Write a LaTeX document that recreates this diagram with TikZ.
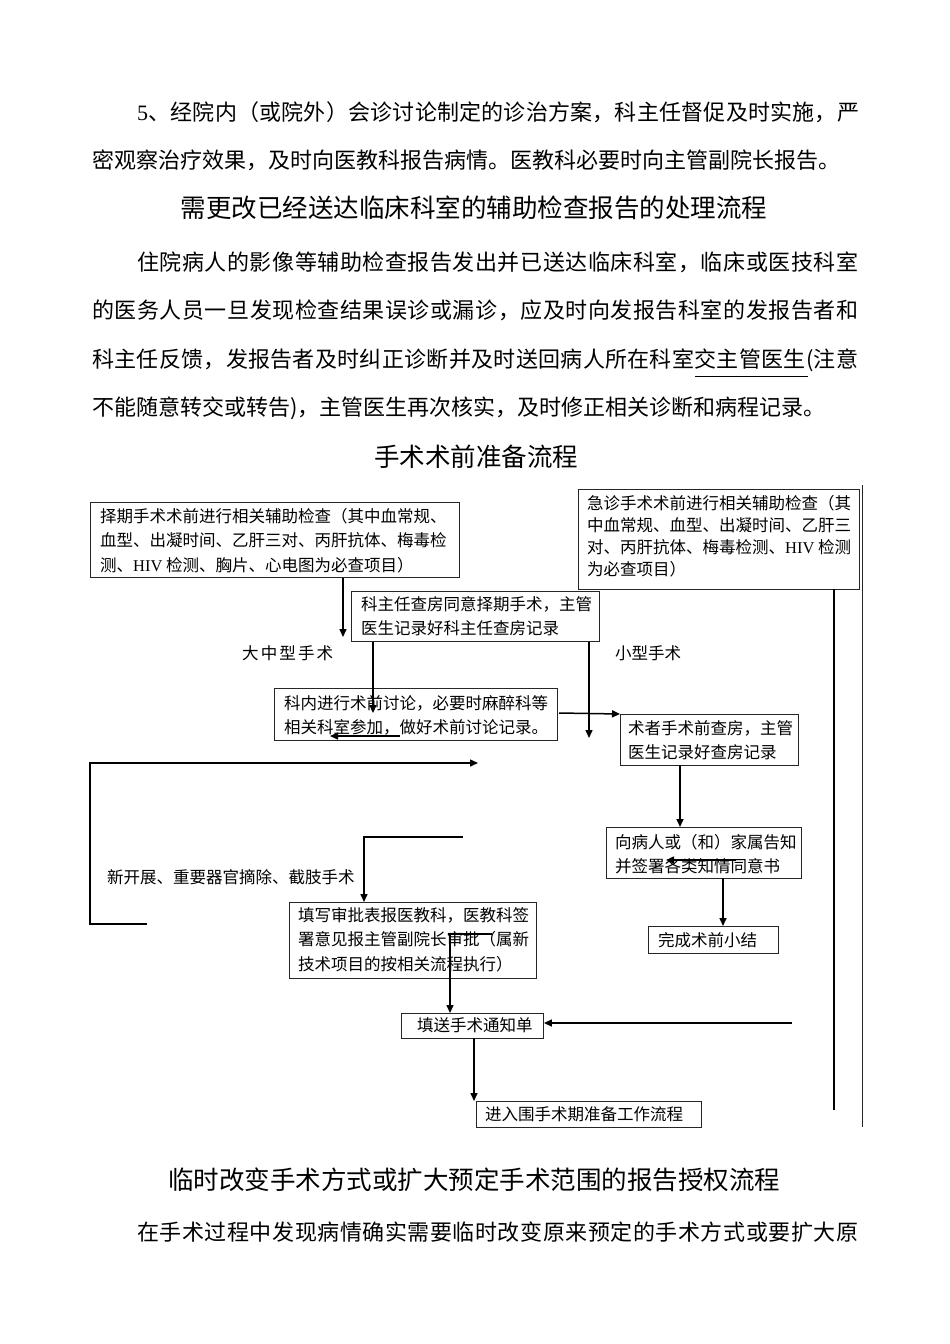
\documentclass[tikz,border=0pt]{standalone}
\usepackage{fontspec}
\setmainfont{Liberation Serif}
\newfontfamily\cjk{Noto Sans CJK SC}
\usetikzlibrary{arrows.meta}
\def\spreadA#1{#1\spreadB}
\def\spreadB#1{\ifx#1\relax\else\hfil#1\expandafter\spreadB\fi}
\newcommand\bodyfont{\cjk\fontsize{22}{26}\selectfont}
\newcommand\titlefont{\cjk\fontsize{25.5}{30}\selectfont}
\newcommand\boxfont{\cjk\fontsize{16.5}{24.5}\selectfont}
\newcommand\boxfontB{\cjk\fontsize{16.5}{22}\selectfont}
\begin{document}
\begin{tikzpicture}[x=1pt,y=-1pt,
  body/.style={anchor=west,inner sep=0pt,font=\bodyfont},
  ttl/.style={inner sep=0pt,font=\titlefont},
  fbox/.style={draw=black!85,line width=0.9pt,inner sep=0pt,anchor=north west},
  btxt/.style={anchor=north west,inner sep=0pt,align=left,font=\boxfont},
  lbl/.style={anchor=west,inner sep=0pt,font=\boxfont},
  arr/.style={line width=1.5pt,-{Triangle[length=8pt,width=7pt]}},
  ln/.style={line width=1.5pt}]
\useasboundingbox (0,0) rectangle (950,1344);
\fill[white] (0,0) rectangle (950,1344);

% ---------- body text ----------
\node[body] (p1) at (137,112) {\makebox[722pt][s]{{\rmfamily 5}\spreadB 、经院内（或院外）会诊讨论制定的诊治方案，科主任督促及时实施，严\relax}};
\node[body] (p2) at (92,160) {密观察治疗效果，及时向医教科报告病情。医教科必要时向主管副院长报告。};
\node[ttl] (t1) at (474,208) {需更改已经送达临床科室的辅助检查报告的处理流程};
\node[body] (p3) at (137,262) {\makebox[721pt][s]{\spreadA 住院病人的影像等辅助检查报告发出并已送达临床科室，临床或医技科室\relax}};
\node[body] (p4) at (92,310) {\makebox[766pt][s]{\spreadA 的医务人员一旦发现检查结果误诊或漏诊，应及时向发报告科室的发报告者和\relax}};
\node[body] (p5) at (92,360) {\makebox[766pt][s]{\spreadA 科主任反馈，发报告者及时纠正诊断并及时送回病人所在科室交主管医生(注意\relax}};
\coordinate (u1) at (695,376);
\coordinate (u2) at (808,376);
\draw[line width=0.8pt] (u1) -- (u2);
\node[body] (p6) at (92,408) {不能随意转交或转告)，主管医生再次核实，及时修正相关诊断和病程记录。};
\node[ttl] (t2) at (476,457) {手术术前准备流程};

% ---------- boxes ----------
\node[fbox,minimum width=369pt,minimum height=75pt] (A) at (90,502) {};
\node[btxt] (Atx) at (100,508) {择期手术术前进行相关辅助检查（其中血常规、\\血型、出凝时间、乙肝三对、丙肝抗体、梅毒检\\测、{\rmfamily HIV} 检测、胸片、心电图为必查项目）};

\node[fbox,minimum width=281pt,minimum height=100pt] (B) at (578,489) {};
\node[btxt,font=\boxfontB] (Btx) at (587,495) {急诊手术术前进行相关辅助检查（其\\中血常规、血型、出凝时间、乙肝三\\对、丙肝抗体、梅毒检测、{\rmfamily HIV} 检测\\为必查项目）};

\node[fbox,minimum width=248pt,minimum height=50pt] (C) at (351,591) {};
\node[btxt] (Ctx) at (361,596) {科主任查房同意择期手术，主管\\医生记录好科主任查房记录};

\node[fbox,minimum width=283pt,minimum height=52pt] (D) at (274,688) {};
\node[btxt] (Dtx) at (284,695) {科内进行术前讨论，必要时麻醉科等\\相关科室参加，做好术前讨论记录。};

\node[fbox,minimum width=178pt,minimum height=51pt] (E) at (620,714) {};
\node[btxt] (Etx) at (628,720) {术者手术前查房，主管\\医生记录好查房记录};

\node[fbox,minimum width=195pt,minimum height=51pt] (I) at (606,827) {};
\node[btxt] (Itx) at (615,834) {向病人或（和）家属告知\\并签署各类知情同意书};

\node[fbox,minimum width=130pt,minimum height=27pt] (J) at (648,926) {};
\node[lbl] (Jtx) at (658,940) {完成术前小结};

\node[fbox,minimum width=247pt,minimum height=76pt] (F) at (289,902) {};
\node[btxt] (Ftx) at (298,907) {填写审批表报医教科，医教科签\\署意见报主管副院长审批（属新\\技术项目的按相关流程执行）};

\node[fbox,minimum width=142pt,minimum height=25pt] (G) at (401,1013) {};
\node[lbl] (Gtx) at (417,1025) {填送手术通知单};

\node[fbox,minimum width=225pt,minimum height=26pt] (H) at (476,1101) {};
\node[lbl] (Htx) at (485,1114) {进入围手术期准备工作流程};

% ---------- labels ----------
\node[lbl] (L1) at (242,653) {\makebox[91pt][s]{\spreadA 大中型手术\relax}};
\node[lbl] (L2) at (615,653) {小型手术};
\node[lbl] (L3) at (107,877) {新开展、重要器官摘除、截肢手术};

% ---------- connectors ----------
\coordinate (a1) at (343,637);
\draw[arr] (A.south west -| a1) -- (a1);
\coordinate (c1) at (373,713);
\draw[arr] (C.south west -| c1) -- (c1);
\coordinate (c2) at (589,738);
\draw[arr] (C.south west -| c2) -- (c2);
\coordinate (d1) at (559,713);
\draw[arr] (d1) -- (E.north west);
\coordinate (d2) at (400,736);
\coordinate (d3) at (330,736);
\draw[arr] (d2) -- (d3);
\coordinate (k1) at (147,924);
\coordinate (k2) at (90,924);
\coordinate (k3) at (90,763);
\coordinate (k4) at (478,763);
\draw[arr] (k1) -- (k2) -- (k3) -- (k4);
\coordinate (n1) at (463,837);
\coordinate (n2) at (364,837);
\draw[arr] (n1) -- (n2) -- (F.north west -| n2);
\coordinate (f1) at (492,934);
\coordinate (f2) at (450,934);
\draw[arr] (f1) -- (f2) -- (G.north west -| f2);
\coordinate (e1) at (680,765);
\draw[arr] (e1) -- (I.north west -| e1);
\coordinate (i1) at (736,860);
\coordinate (i2) at (666,860);
\draw[arr] (i1) -- (i2);
\coordinate (i3) at (723,878);
\draw[arr] (i3) -- (J.north west -| i3);
\coordinate (g1) at (792,1023);
\draw[arr] (g1) -- (G.east |- g1);
\coordinate (g2) at (474,1038);
\draw[arr] (g2) -- (H.north west -| g2);
\coordinate (v1) at (834,589);
\coordinate (v2) at (834,1110);
\draw[ln] (v1) -- (v2);
\coordinate (w1) at (862,485);
\coordinate (w2) at (862,1127);
\draw[line width=0.9pt,black!85] (w1) -- (w2);

% ---------- bottom text ----------
\node[ttl] (t3) at (474,1180) {临时改变手术方式或扩大预定手术范围的报告授权流程};
\node[body] (p7) at (137,1232) {\makebox[721pt][s]{\spreadA 在手术过程中发现病情确实需要临时改变原来预定的手术方式或要扩大原\relax}};
\end{tikzpicture}
\end{document}
